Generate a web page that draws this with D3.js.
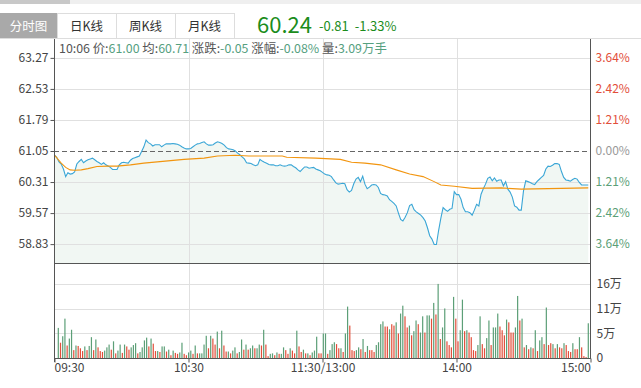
<!DOCTYPE html>
<html>
<head>
<meta charset="utf-8">
<script src="https://cdn.jsdelivr.net/npm/d3@7/dist/d3.min.js"></script>
<style>
  body { margin: 0; background: #fff; }
  svg { display: block; font-family: "Noto Sans CJK SC", "Noto Sans", sans-serif; }
</style>
</head>
<body>
<svg id="chart" width="641" height="388"></svg>
<script>
// header
const lastPrice = '60.24'
const change = '-0.81'
const changePct = '-1.33%'
const prevClose = 61.05
const tabs = ['分时图', '日K线', '周K线', '月K线']

// tooltip row (label, value)
const infoLabels = ['10:06 价:', ' 均:', ' 涨跌:', ' 涨幅:', ' 量:']
const infoValues = ['61.00', '60.71', '-0.05', '-0.08%', '3.09万手']

// axes
const priceTicks = [63.27, 62.53, 61.79, 61.05, 60.31, 59.57, 58.83]
const volTicks = [16, 10.67, 5.33, 0]   // 万手
const timeMinutes = [0, 60, 120, 180, 240]
const timeLabels = ['09:30', '10:30', '11:30/13:00', '14:00', '15:00']

// price per minute, 09:30 .. 14:59
const prices = [
  60.95,60.90,60.79,60.74,60.62,60.44,60.53,60.50,60.51,60.55,
  60.74,60.80,60.85,60.77,60.81,60.84,60.86,60.88,60.84,60.80,
  60.77,60.73,60.77,60.72,60.69,60.66,60.61,60.61,60.61,60.72,
  60.77,60.78,60.77,60.76,60.83,60.87,60.89,60.91,60.93,61.04,
  61.15,61.31,61.25,61.22,61.17,61.20,61.20,61.20,61.15,61.19,
  61.22,61.22,61.22,61.23,61.22,61.21,61.19,61.15,61.12,61.10,
  61.10,61.11,61.15,61.19,61.22,61.23,61.25,61.27,61.22,61.19,
  61.19,61.20,61.24,61.27,61.25,61.23,61.19,61.13,61.10,61.09,
  61.08,61.05,61.00,60.96,60.91,60.86,60.77,60.76,60.75,60.72,
  60.70,60.72,60.85,60.81,60.78,60.76,60.73,60.72,60.72,60.70,
  60.70,60.72,60.70,60.69,60.70,60.72,60.72,60.68,60.65,60.60,
  60.56,60.62,60.67,60.67,60.64,60.65,60.66,60.62,60.60,60.58,
  60.54,60.50,60.48,60.47,60.44,60.36,60.29,60.26,60.27,60.28,
  60.27,60.13,60.07,60.11,60.27,60.38,60.42,60.32,60.45,60.26,
  60.15,60.19,60.24,60.25,60.24,60.18,60.04,60.01,60.00,59.98,
  59.89,59.85,59.80,59.74,59.57,59.42,59.38,59.47,59.58,59.75,
  59.78,59.65,59.60,59.56,59.52,59.46,59.38,59.22,59.03,58.95,
  58.82,58.82,59.16,59.45,59.70,59.65,59.61,59.66,59.68,60.08,
  60.01,60.01,59.90,59.70,59.60,59.60,59.58,59.52,59.64,59.78,
  59.74,60.02,60.15,60.26,60.40,60.43,60.34,60.41,60.33,60.36,
  60.36,60.22,60.32,60.14,60.07,59.95,59.74,59.71,59.64,59.64,
  60.10,60.34,60.32,60.30,60.27,60.25,60.32,60.37,60.42,60.47,
  60.62,60.69,60.68,60.71,60.75,60.75,60.73,60.56,60.42,60.36,
  60.35,60.33,60.37,60.40,60.38,60.30,60.24,60.24,60.24,60.24
]

// average price line, read at these minutes
const avgMinutes = [0,3,5,7,9,12,15,19,24,28,34,40,46,52,58,67,73,81,87,102,104,117,128,133,139,146,153,159,165,170,173,179,187,200,209,227,239]
const avgPrices = [60.95,60.76,60.66,60.60,60.59,60.60,60.63,60.68,60.69,60.69,60.72,60.76,60.79,60.82,60.85,60.88,60.93,60.95,60.93,60.93,60.90,60.88,60.85,60.78,60.76,60.72,60.60,60.50,60.44,60.32,60.24,60.21,60.16,60.17,60.14,60.16,60.17]

// volume per minute in 万手
const volumes = [
  6.5,3.3,4.7,8.5,2.7,4.2,6.1,1.7,2.7,2.6,
  2.1,1.5,2.5,1.7,2.6,4.5,1.7,4.0,2.3,1.5,
  1.3,1.6,2.3,2.9,1.8,3.6,1.0,1.6,2.9,1.1,
  2.9,2.5,1.8,2.3,2.8,3.2,1.0,1.3,2.3,3.8,
  4.4,2.5,4.2,3.1,1.5,1.5,1.3,2.5,2.5,1.4,
  1.8,0.6,1.6,1.1,0.9,1.2,3.3,0.9,0.6,1.2,
  1.6,0.9,2.7,1.0,1.0,1.0,2.9,4.8,2.1,4.8,
  4.2,2.9,5.7,2.1,5.9,2.7,1.4,1.4,1.0,1.6,
  2.3,1.0,1.3,4.0,1.8,2.9,1.8,2.1,2.7,2.1,
  2.1,2.9,2.7,6.1,2.9,0.4,0.9,1.0,0.6,1.2,
  0.9,0.9,2.3,1.7,0.9,2.1,1.6,1.0,5.9,2.5,
  1.3,1.8,1.0,1.0,0.6,1.2,1.6,4.6,1.0,1.0,
  5.3,5.3,0.9,1.7,3.0,3.4,3.0,2.1,2.1,1.3,
  5.3,11.1,7.0,1.7,1.5,1.7,2.3,1.9,4.1,1.3,
  2.6,1.7,1.7,1.3,2.8,3.4,7.3,7.9,6.8,6.8,
  6.2,7.3,7.0,7.7,5.3,9.6,11.3,9.0,6.6,7.0,
  4.9,5.8,8.1,7.3,5.5,9.0,5.5,9.2,9.2,8.5,
  11.9,9.4,16.0,4.1,6.6,10.7,3.6,2.8,2.3,13.2,
  8.5,3.6,6.0,12.6,5.8,6.0,5.5,4.5,1.7,1.5,
  2.8,9.0,3.0,2.1,4.3,8.1,2.8,6.6,6.6,9.6,
  6.8,6.0,4.9,8.3,7.7,5.5,5.5,6.6,13.4,8.1,
  8.5,2.3,2.8,1.9,2.3,2.1,6.0,1.5,3.8,4.5,
  3.0,10.9,2.8,3.2,3.0,2.1,3.0,2.3,2.1,3.2,
  2.8,1.5,1.3,3.2,1.9,1.9,4.5,2.3,0.4,0.2,
  7.5
]
// 1 = up (red), 0 = down (green)
const volUp = (
  '0100100101' + '1101001011' + '1000101001' + '0110001000' +
  '0101101001' + '0101100110' + '0101000010' + '1101011010' +
  '0100101001' + '0010110010' + '1001101101' + '1010100011' +
  '0010001101' + '0011100101' + '0111000011' + '0110100110' +
  '1001001001' + '0101001110' + '1100101111' + '0011001000' +
  '1110111001' + '0101010100' + '1011010110' + '1110110111' + '0'
).split('').map(Number)

const colors = {
  up: '#e24e3a', down: '#5c9f77', flat: '#999',
  price: '#3aa6d6', avg: '#f2950f', fill: '#f1f7f3',
  grid: '#e0e0e0', axis: '#555', text: '#444', info: '#56a07f', head: '#1b8c1b'
}

const svg = d3.select('#chart')
const W = 641
const left = 54, right = 590
const priceTop = 39, priceBottom = 263, volBottom = 358

const x = d3.scaleLinear().domain([0, 240]).range([left + .5, right + .5])
const y = d3.scaleLinear().domain([58.38, 63.72]).range([priceBottom, priceTop])
const yv = d3.scaleLinear().domain([0, 20.3]).range([volBottom, priceBottom + 1])
const xb = d3.scaleBand().domain(d3.range(volumes.length)).range([left + 3.2, right - .6])
const crisp = v => Math.round(v) + .5

// top strip
svg.append('rect').attr('width', W).attr('height', 4).attr('fill', '#efefef')
svg.append('rect').attr('width', 70).attr('height', 4).attr('fill', '#c8c8c8')

// tabs
const tabX = i => i === 0 ? 0 : 57 + (i - 1) * 59
const tabW = i => i === 0 ? 57 : 59
const tab = svg.append('g').selectAll('g').data(tabs).join('g')
tab.append('rect')
    .attr('x', (d, i) => tabX(i) + .5).attr('y', 13.5)
    .attr('width', (d, i) => tabW(i)).attr('height', 25)
    .attr('fill', (d, i) => i === 0 ? '#a9a9a9' : '#fff')
    .attr('stroke', (d, i) => i === 0 ? '#a9a9a9' : '#ddd')
tab.append('text')
    .attr('x', (d, i) => tabX(i) + tabW(i) / 2).attr('y', 31)
    .attr('text-anchor', 'middle')
    .attr('font-size', 12.5)
    .attr('fill', (d, i) => i === 0 ? '#fff' : '#333')
    .text(d => d)

svg.append('text').attr('x', 257).attr('y', 33)
    .attr('font-size', 22).attr('fill', colors.head).text(lastPrice)
const chg = svg.append('text').attr('x', 319).attr('y', 30.5)
    .attr('font-size', 13).attr('fill', colors.head)
chg.append('tspan').text(change)
chg.append('tspan').attr('dx', 6).text(changePct)

svg.append('line').attr('x1', 0).attr('x2', W).attr('y1', 38.5).attr('y2', 38.5)
    .attr('stroke', '#ddd')

// price area
svg.append('path')
    .datum(prices)
    .attr('fill', colors.fill)
    .attr('d', d3.area().x((d, i) => x(i)).y0(priceBottom).y1(d => y(d)))

// grid
const grid = svg.append('g').attr('stroke', colors.grid).attr('shape-rendering', 'crispEdges')
grid.selectAll('line.h').data(priceTicks.filter(d => d !== prevClose)).join('line')
    .attr('x1', left).attr('x2', right)
    .attr('y1', d => crisp(y(d))).attr('y2', d => crisp(y(d)))
grid.selectAll('line.v').data(timeMinutes.slice(1, -1)).join('line')
    .attr('x1', d => crisp(x(d))).attr('x2', d => crisp(x(d)))
    .attr('y1', priceTop).attr('y2', volBottom)
grid.selectAll('line.vol').data(volTicks.filter(d => d > 0)).join('line')
    .attr('x1', left).attr('x2', right)
    .attr('y1', d => crisp(yv(d))).attr('y2', d => crisp(yv(d)))

svg.append('line')
    .attr('x1', left).attr('x2', right)
    .attr('y1', crisp(y(prevClose))).attr('y2', crisp(y(prevClose)))
    .attr('stroke', '#666').attr('stroke-dasharray', '5,3')

// volume bars
svg.append('g').selectAll('rect').data(volumes).join('rect')
    .attr('x', (d, i) => xb(i) + xb.bandwidth() / 2 - .6)
    .attr('width', 1.2)
    .attr('y', d => yv(d))
    .attr('height', d => volBottom - yv(d))
    .attr('fill', (d, i) => volUp[i] ? colors.up : colors.down)

// lines
svg.append('path').datum(prices)
    .attr('fill', 'none').attr('stroke', colors.price).attr('stroke-width', 1.1)
    .attr('d', d3.line().x((d, i) => x(i)).y(d => y(d)))
svg.append('path').datum(avgMinutes)
    .attr('fill', 'none').attr('stroke', colors.avg).attr('stroke-width', 1.1)
    .attr('d', d3.line().x(d => x(d)).y((d, i) => y(avgPrices[i])))

// frame
const frame = svg.append('g').attr('stroke', colors.axis).attr('shape-rendering', 'crispEdges')
frame.append('line').attr('x1', left + .5).attr('x2', left + .5).attr('y1', priceTop).attr('y2', volBottom + 4)
frame.append('line').attr('x1', right + .5).attr('x2', right + .5).attr('y1', priceTop).attr('y2', volBottom)
frame.append('line').attr('x1', left).attr('x2', right + 1).attr('y1', priceBottom + .5).attr('y2', priceBottom + .5)

// axes
function styleAxis(g) {
    g.select('.domain').remove()
    g.selectAll('line').attr('stroke', colors.axis)
    g.selectAll('text').attr('fill', colors.text).attr('font-size', 12)
        .attr('font-family', '"Noto Sans CJK SC", sans-serif')
}

svg.append('g').attr('transform', `translate(${left + .5},0)`)
    .call(d3.axisLeft(y).tickValues(priceTicks).tickSize(4).tickPadding(2).tickFormat(d3.format('.2f')))
    .call(styleAxis)

const pct = d => Math.abs((d - prevClose) / prevClose * 100).toFixed(2) + '%'
svg.append('g').attr('transform', `translate(${right + .5},0)`)
    .call(d3.axisRight(y).tickValues(priceTicks).tickSize(0).tickPadding(5).tickFormat(pct))
    .call(styleAxis)
    .selectAll('text')
    .attr('fill', d => d > prevClose ? colors.up : d < prevClose ? colors.down : colors.flat)

svg.append('g').attr('transform', `translate(${right + .5},0)`)
    .call(d3.axisRight(yv).tickValues(volTicks).tickSize(0).tickPadding(6)
        .tickFormat(d => d === 0 ? '0' : Math.round(d) + '万'))
    .call(styleAxis)

const xAxis = svg.append('g').attr('transform', `translate(0,${volBottom + .5})`)
    .call(d3.axisBottom(x).tickValues(timeMinutes).tickSize(4).tickPadding(1)
        .tickFormat((d, i) => timeLabels[i]))
    .call(styleAxis)
xAxis.append('line').attr('x1', left).attr('x2', right + 1).attr('stroke', colors.axis)
    .attr('shape-rendering', 'crispEdges')
xAxis.selectAll('.tick text')
    .attr('text-anchor', (d, i) => i === 0 ? 'start' : i === timeMinutes.length - 1 ? 'end' : 'middle')
    .attr('dx', (d, i) => i === 0 ? -.5 : 0)

// info row
const info = svg.append('text').attr('x', 59).attr('y', 52.5).attr('font-size', 12.4)
infoLabels.forEach((label, i) => {
    info.append('tspan').attr('fill', colors.axis).text(label)
    info.append('tspan').attr('fill', colors.info).text(infoValues[i])
})
</script>
</body>
</html>
